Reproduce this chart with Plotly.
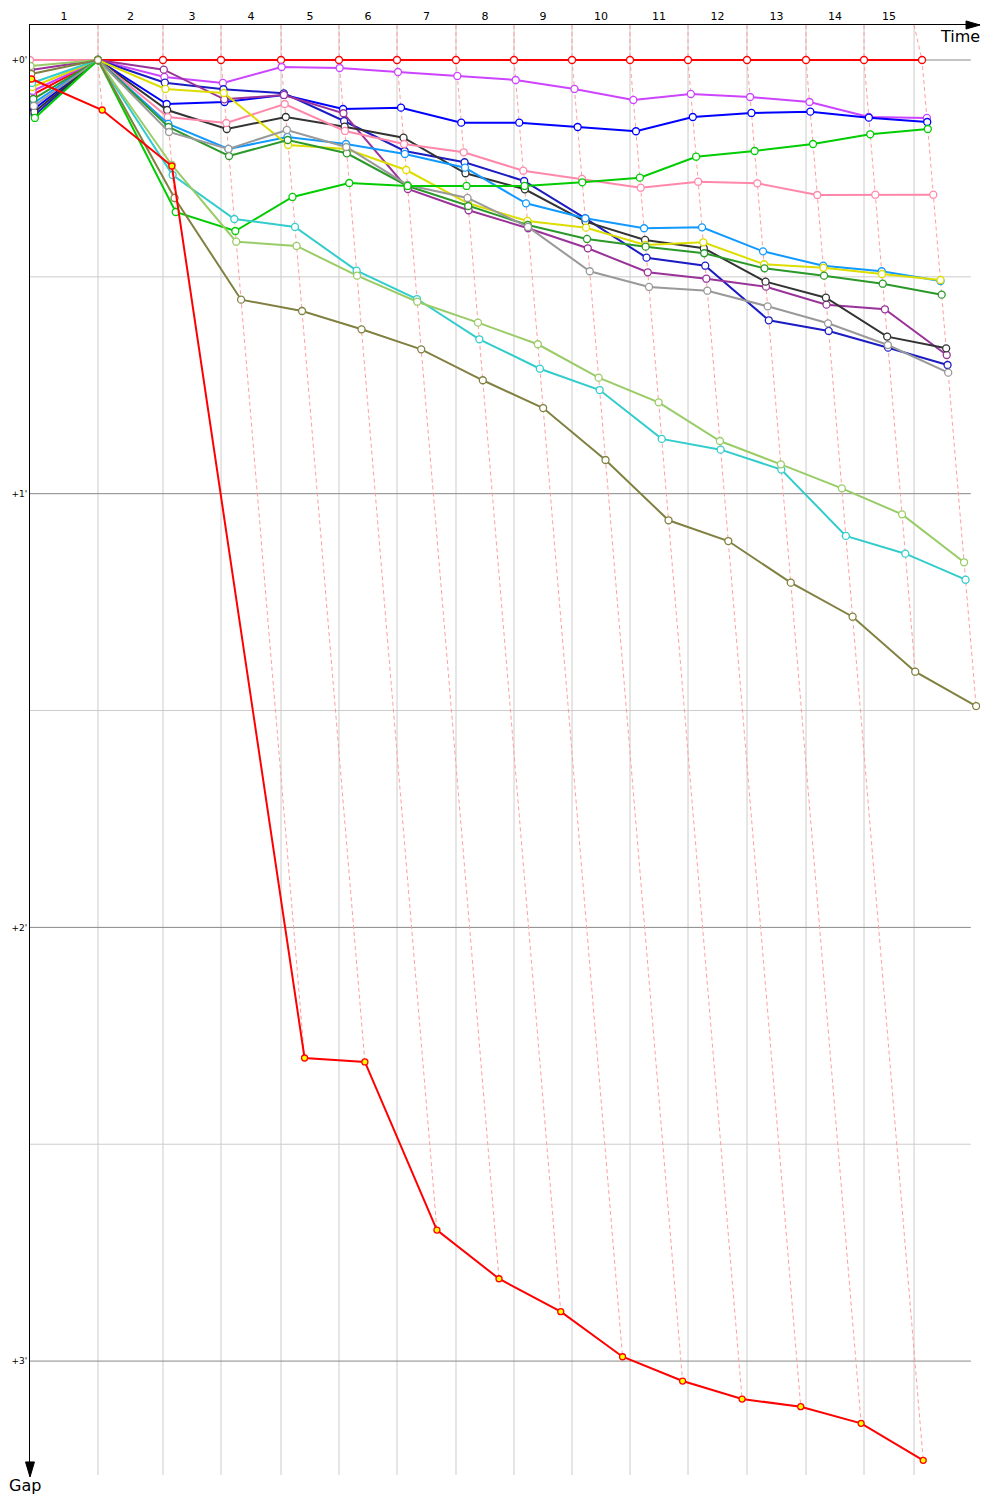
import plotly.graph_objects as go

# ---------------- data ----------------
# leader's cumulative race time (s) at the end of each lap (lap 0 = start)
leader_times = [0, 112.4, 219.8, 315.7, 414.9, 510.7, 606.6, 704.1, 800.0, 895.9,
                991.7, 1087.6, 1185.1, 1282.6, 1378.5, 1474.4]
# lap boundary marks on the time axis
lap_marks = [112.4, 219.8, 315.7, 414.9, 510.7, 606.6, 704.1, 800.0, 895.9,
             991.7, 1087.6, 1185.1, 1282.6, 1378.5, 1461.2]
lap_labels = [str(i) for i in range(1, 16)]
gap_ticks = [0, 60, 120, 180]
gap_tick_labels = ["+0'", "+1'", "+2'", "+3'"]
gap_minor = [30, 90, 150]

# gap to leader (s) per lap, lap 0..15
gap_leader = [4.8, 0, 0, 0, 0, 0, 0, 0, 0, 0, 0, 0, 0, 0, 0, 0]
gap_magenta = [4.29, 0, 2.35, 3.18, 0.97, 1.11, 1.66, 2.21, 2.77, 4.01, 5.53, 4.70, 5.12, 5.81, 7.89, 8.02]
gap_blue = [6.78, 0, 6.09, 5.81, 4.84, 6.78, 6.60, 8.67, 8.67, 9.27, 9.86, 7.89, 7.33, 7.15, 7.98, 8.58]
gap_navy = [7.61, 0, 3.14, 4.05, 4.61, 8.44, 12.59, 14.15, 16.74, 21.90, 27.35, 28.46, 36.01, 37.49, 39.80, 42.20]
gap_purple = [1.38, 0, 1.34, 5.44, 4.84, 7.37, 17.85, 20.79, 23.28, 26.05, 29.37, 30.26, 31.36, 33.85, 34.49, 40.81]
gap_black = [7.19, 0, 6.92, 9.55, 7.89, 9.23, 10.75, 15.67, 17.89, 22.37, 24.90, 26.05, 30.67, 32.89, 38.27, 39.89]
gap_pink = [0, 0, 7.89, 8.72, 6.09, 9.82, 11.62, 12.77, 15.32, 16.46, 17.67, 16.84, 17.06, 18.68, 18.64, 18.64]
gap_lightblue = [5.95, 0, 8.85, 12.31, 10.65, 11.62, 13.00, 14.90, 19.83, 21.90, 23.28, 23.15, 26.47, 28.46, 29.23, 30.58]
gap_yellow = [3.74, 0, 4.01, 4.57, 11.76, 12.31, 15.22, 19.83, 22.27, 23.20, 25.59, 25.22, 28.26, 28.74, 29.61, 30.44]
gap_darkgreen = [5.40, 0, 9.27, 13.28, 11.07, 12.91, 17.43, 20.20, 22.83, 24.76, 25.83, 26.74, 28.82, 29.84, 30.95, 32.47]
gap_gray = [6.36, 0, 9.96, 12.31, 9.68, 12.04, 17.29, 19.09, 23.10, 29.23, 31.40, 31.92, 34.08, 36.43, 39.43, 43.26]
gap_green = [8.02, 0, 21.03, 23.66, 18.95, 17.02, 17.43, 17.43, 17.43, 16.92, 16.28, 13.38, 12.59, 11.62, 10.28, 9.55]
gap_cyan = [3.18, 0, 15.91, 22.00, 23.10, 29.15, 33.07, 38.64, 42.71, 45.66, 52.42, 53.91, 56.67, 65.84, 68.30, 71.90]
gap_lightolive = [0.83, 0, 14.53, 25.14, 25.73, 29.84, 33.44, 36.34, 39.33, 43.95, 47.36, 52.71, 55.94, 59.26, 62.86, 69.49]
gap_olive = [1.94, 0, 19.09, 33.16, 34.73, 37.26, 40.03, 44.31, 48.15, 55.34, 63.68, 66.55, 72.31, 77.02, 84.63, 89.38]
gap_redlast = [2.63, 6.92, 14.67, 138.07, 138.62, 161.87, 168.61, 173.17, 179.40, 182.76, 185.25,
               186.31, 188.61, 193.73]

drivers = [
    (gap_leader, "#ff0000", "white"),
    (gap_magenta, "#cc44ff", "white"),
    (gap_blue, "#0000ff", "white"),
    (gap_navy, "#1c1cc4", "white"),
    (gap_purple, "#993399", "white"),
    (gap_black, "#333333", "white"),
    (gap_pink, "#ff88aa", "white"),
    (gap_lightblue, "#1199ff", "white"),
    (gap_yellow, "#dddd00", "white"),
    (gap_darkgreen, "#2a992a", "white"),
    (gap_gray, "#999999", "white"),
    (gap_green, "#00cc00", "white"),
    (gap_cyan, "#33cccc", "white"),
    (gap_lightolive, "#99cc66", "white"),
    (gap_olive, "#808040", "white"),
    (gap_redlast, "#ff0000", "#ffff00"),
]

X_MAX = 1570.2
Y_TOP = -4.84
Y_BOTTOM = 195.76
GRID_END = 1555

fig = go.Figure()

# dashed lap lines (connect each lap's finishers ordered by gap)
for k in range(1, 16):
    pts = []
    for gaps, _, _ in drivers:
        if len(gaps) > k:
            pts.append((leader_times[k] + gaps[k], gaps[k]))
    pts.sort(key=lambda p: p[1])
    xs = [lap_marks[k - 1]] + [p[0] for p in pts]
    ys = [Y_TOP] + [p[1] for p in pts]
    fig.add_trace(go.Scatter(x=xs, y=ys, mode="lines",
                             line=dict(color="#ff9f9f", width=1, dash="4px,3px"),
                             hoverinfo="skip"))

for gaps, color, fill in drivers:
    xs = [leader_times[i] + g for i, g in enumerate(gaps)]
    is_last = fill != "white"
    fig.add_trace(go.Scatter(
        x=xs, y=gaps, mode="lines+markers",
        line=dict(color=color, width=2),
        marker=dict(symbol="circle", size=6 if is_last else 7, color=fill,
                    line=dict(color=color, width=1.3)),
    ))

shapes = []
for t in lap_marks:
    shapes.append(dict(type="line", xref="x", yref="paper", x0=t, x1=t, y0=0, y1=1,
                       line=dict(color="#cccccc", width=1), layer="below"))
for g in gap_minor:
    shapes.append(dict(type="line", xref="x", yref="y", x0=0, x1=GRID_END, y0=g, y1=g,
                       line=dict(color="#cccccc", width=1), layer="below"))
for g in gap_ticks:
    shapes.append(dict(type="line", xref="x", yref="y", x0=0, x1=GRID_END, y0=g, y1=g,
                       line=dict(color="#888888", width=1), layer="below"))
# arrowheads
shapes.append(dict(type="path", xref="paper", yref="paper",
                   path="M 0.9853,1.0028 L 1.0,1.0 L 0.9853,0.9972 Z",
                   fillcolor="black", line=dict(color="black", width=1)))
shapes.append(dict(type="path", xref="paper", yref="paper",
                   path="M -0.0047,0.0090 L 0,-0.0014 L 0.0047,0.0090 Z",
                   fillcolor="black", line=dict(color="black", width=1)))

mids = [(a + b) / 2 for a, b in zip([0] + lap_marks[:-1], lap_marks)]

fig.update_layout(
    width=992, height=1492,
    margin=dict(l=22, r=20, t=17, b=25, autoexpand=False),
    paper_bgcolor="white", plot_bgcolor="white",
    showlegend=False,
    font=dict(family="DejaVu Sans", color="black"),
    shapes=shapes,
    xaxis=dict(range=[0, X_MAX], side="top", tickvals=mids, ticktext=lap_labels,
               showgrid=False, zeroline=False, showline=True, linecolor="black",
               linewidth=1, ticks="", tickfont=dict(size=11), automargin=False),
    yaxis=dict(range=[Y_BOTTOM, Y_TOP], tickvals=gap_ticks, ticktext=gap_tick_labels,
               showgrid=False, zeroline=False, showline=True, linecolor="black",
               linewidth=1, ticks="", tickfont=dict(size=9), automargin=False),
    annotations=[
        dict(text="Time", xref="paper", yref="paper", x=0.979, y=0.9924,
             xanchor="center", yanchor="middle", showarrow=False, font=dict(size=16)),
        dict(text="Gap", xref="paper", yref="paper", x=-0.0053, y=-0.0069,
             xanchor="center", yanchor="middle", showarrow=False, font=dict(size=16)),
    ],
)

fig.write_html("out.html")
